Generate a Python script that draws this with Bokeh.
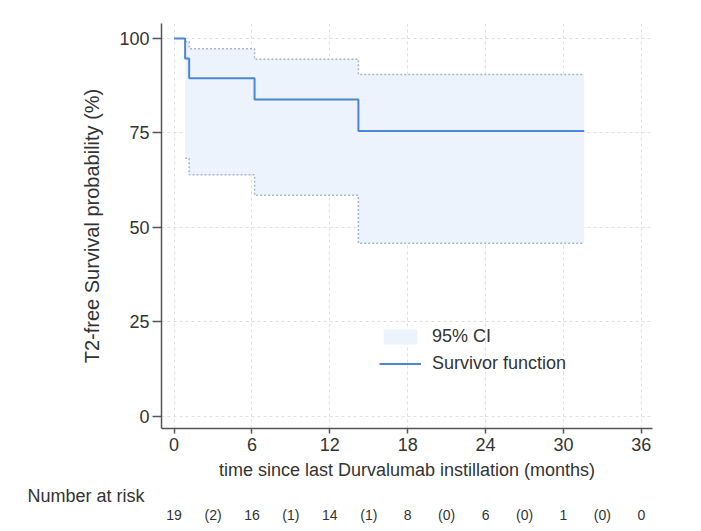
from bokeh.plotting import figure
from bokeh.models import (ColumnDataSource, Range1d, FixedTicker, LinearAxis,
                          Legend, LegendItem, Title)
from bokeh.embed import file_html
from bokeh.resources import INLINE

# ---- data ----
km_time = [0, 0.85, 1.16, 6.2, 14.2, 31.6]
km_surv = [100, 94.74, 89.47, 83.88, 75.49, 75.49]

ci_time = [0.85, 1.16, 6.2, 14.2, 31.6]
ci_low = [68.3, 63.9, 58.5, 45.8, 45.8]
ci_high = [99.2, 97.3, 94.5, 90.5, 90.5]

x_ticks = [0, 6, 12, 18, 24, 30, 36]
y_ticks = [0, 25, 50, 75, 100]

risk_time = [0, 3, 6, 9, 12, 15, 18, 21, 24, 27, 30, 33, 36]
risk_text = ["19", "(2)", "16", "(1)", "14", "(1)", "8", "(0)", "6", "(0)", "1", "(0)", "0"]

FONT = "Liberation Sans"
TXT = "#333333"

p = figure(width=701, height=531, output_backend="svg", toolbar_location=None,
           x_range=Range1d(-0.97, 36.86), y_range=Range1d(-3.3, 104))
p.min_border_left = 161
p.min_border_right = 49
p.min_border_top = 23
p.min_border_bottom = 103
p.outline_line_color = None
p.background_fill_color = "white"
p.border_fill_color = "white"

# CI band
ci_src = ColumnDataSource(dict(x=ci_time, lo=ci_low, hi=ci_high))
band = p.varea_step(x="x", y1="lo", y2="hi", step_mode="after", source=ci_src,
                    fill_color="#ecf3fc", fill_alpha=1.0)
p.step(x="x", y="lo", mode="after", source=ci_src, line_color="#a7b6cc",
       line_width=1.5, line_dash="2 2")
p.step(x="x", y="hi", mode="after", source=ci_src, line_color="#a7b6cc",
       line_width=1.5, line_dash="2 2")

# survivor function
km_src = ColumnDataSource(dict(x=km_time, y=km_surv))
line = p.step(x="x", y="y", mode="after", source=km_src, line_color="#4a86d6",
              line_width=2)

# axes
for ax in (p.xaxis[0], p.yaxis[0]):
    ax.axis_line_color = "#555555"
    ax.axis_line_width = 1.5
    ax.major_tick_line_color = "#555555"
    ax.major_tick_line_width = 1.5
    ax.major_tick_in = 0
    ax.minor_tick_line_color = None
    ax.major_label_text_font = FONT
    ax.major_label_text_font_size = "18px"
    ax.major_label_text_color = TXT
    ax.axis_label_text_font = FONT
    ax.axis_label_text_font_size = "18px"
    ax.axis_label_text_color = TXT
    ax.axis_label_text_font_style = "normal"

p.yaxis.axis_label_text_font_size = "20px"
p.xaxis.ticker = FixedTicker(ticks=x_ticks)
p.yaxis.ticker = FixedTicker(ticks=y_ticks)
p.xaxis.major_tick_out = 5
p.xaxis.major_label_standoff = 4
p.yaxis.major_tick_out = 9
p.yaxis.major_label_standoff = 3
p.xaxis.axis_label = "time since last Durvalumab instillation (months)"
p.yaxis.axis_label = "T2-free Survival probability (%)"
p.xaxis.axis_label_standoff = 6
p.yaxis.axis_label_standoff = 13

p.grid.grid_line_color = "#e0e0e0"
p.grid.grid_line_dash = "3 3"
p.grid.grid_line_width = 1

legend = Legend(items=[LegendItem(label="95% CI", renderers=[band]),
                       LegendItem(label="Survivor function", renderers=[line])],
                location=(218, 54))
legend.border_line_alpha = 0
legend.background_fill_alpha = 0
legend.padding = 0
legend.margin = 0
legend.glyph_width = 42
legend.glyph_height = 19
legend.label_height = 19
legend.spacing = 6
legend.label_standoff = 11
legend.label_text_font = FONT
legend.label_text_font_size = "18px"
legend.label_text_color = TXT
p.add_layout(legend, "center")

# "Number at risk" heading
risk_title = Title(text="Number at risk", align="left", offset=-134, standoff=2,
                   text_font=FONT, text_font_size="18px", text_color=TXT,
                   text_font_style="normal")
p.add_layout(risk_title, "below")

# number at risk row, drawn as an extra axis with overridden labels
risk_axis = LinearAxis(ticker=FixedTicker(ticks=risk_time),
                       major_label_overrides={t: s for t, s in zip(risk_time, risk_text)})
risk_axis.axis_line_color = None
risk_axis.major_tick_line_color = None
risk_axis.minor_tick_line_color = None
risk_axis.major_tick_out = 0
risk_axis.major_tick_in = 0
risk_axis.major_label_standoff = 0
risk_axis.major_label_text_font = FONT
risk_axis.major_label_text_font_size = "14px"
risk_axis.major_label_text_color = TXT
p.add_layout(risk_axis, "below")

open("out.html", "w").write(file_html(p, INLINE))
